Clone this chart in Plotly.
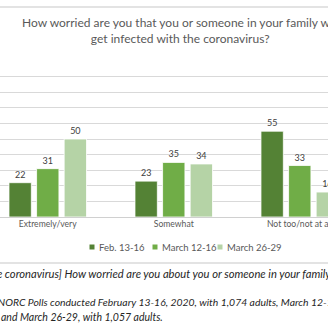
import plotly.graph_objects as go

categories = ["Extremely/very", "Somewhat", "Not too/not at all"]
series_names = ["Feb. 13-16", "March 12-16", "March 26-29"]
feb = [22, 23, 55]
mar12 = [31, 35, 33]
mar26 = [50, 34, 16]
series_values = [feb, mar12, mar26]
colors = ["#548235", "#70ad47", "#b5d3a6"]

title_text = ("How worried are you that you or someone in your family will<br>"
              "get infected with the coronavirus?")
note1 = "the coronavirus] How worried are you about you or someone in your family getting infected"
note2 = "AP-NORC Polls conducted February 13-16, 2020, with 1,074 adults, March 12-16, 2020, with 1,003 adults,"
note3 = "and March 26-29, with 1,057 adults."

W, H = 328, 328
ML, MR, MT, MB = 0, 0, 61, 111
PW = W - ML - MR
PH = H - MT - MB


def px(p):
    return (p - ML) / PW


def py(p):
    return (H - MB - p) / PH


FONT = "Lato, 'Open Sans', sans-serif"

fig = go.Figure()
for name, vals, col in zip(series_names, series_values, colors):
    fig.add_trace(go.Bar(
        x=categories, y=vals, name=name,
        marker=dict(color=col, line=dict(color="white", width=0.8)),
        text=[str(v) for v in vals], textposition="outside",
        textfont=dict(size=9, color="#404040", family=FONT),
        cliponaxis=False, showlegend=False,
    ))

annotations = [
    dict(text=title_text, x=px(180), y=py(30), xref="paper", yref="paper",
         xanchor="center", yanchor="middle", showarrow=False, align="center",
         font=dict(size=12, color="#595959", family=FONT)),
    dict(text="<i>" + note1 + "</i>", x=px(-15), y=py(273), xref="paper", yref="paper",
         xanchor="left", yanchor="middle", showarrow=False,
         font=dict(size=11.2, color="#262626", family=FONT)),
    dict(text="<i>" + note2 + "</i>", x=px(-21), y=py(302), xref="paper", yref="paper",
         xanchor="left", yanchor="middle", showarrow=False,
         font=dict(size=10.4, color="#262626", family=FONT)),
    dict(text="<i>" + note3 + "</i>", x=px(-1), y=py(317), xref="paper", yref="paper",
         xanchor="left", yanchor="middle", showarrow=False,
         font=dict(size=10.5, color="#262626", family=FONT)),
]

shapes = [
    dict(type="line", xref="paper", yref="paper", x0=px(0), x1=px(W), y0=py(7), y1=py(7),
         line=dict(color="#e3e3e3", width=2)),
    dict(type="line", xref="paper", yref="paper", x0=px(0), x1=px(W), y0=py(263), y1=py(263),
         line=dict(color="#e3e3e3", width=2)),
]

legend_marker_x = [92, 155, 220]
for name, col, mx in zip(series_names, colors, legend_marker_x):
    shapes.append(dict(type="rect", xref="paper", yref="paper",
                       x0=px(mx - 2.5), x1=px(mx + 2.5), y0=py(249.5), y1=py(244.5),
                       fillcolor=col, line=dict(width=0)))
    annotations.append(dict(text=name, x=px(mx + 4.5), y=py(247), xref="paper", yref="paper",
                            xanchor="left", yanchor="middle", showarrow=False,
                            font=dict(size=9.5, color="#595959", family=FONT)))

fig.update_layout(
    width=W, height=H,
    margin=dict(l=ML, r=MR, t=MT, b=MB, autoexpand=False),
    paper_bgcolor="white", plot_bgcolor="white",
    barmode="group", bargap=0.343, bargroupgap=0.19,
    showlegend=False,
    xaxis=dict(range=[-0.379, -0.379 + PW / 126.0], showgrid=False, zeroline=False,
               showline=False, ticks="", automargin=False,
               tickfont=dict(size=8.6, color="#595959", family=FONT)),
    yaxis=dict(range=[0, 100], dtick=10, showgrid=True, gridcolor="#d9d9d9", gridwidth=1,
               showticklabels=False, zeroline=True, zerolinecolor="#d0d0d0", zerolinewidth=1,
               ticks="", automargin=False),
    annotations=annotations, shapes=shapes,
)

fig.write_html("out.html")
